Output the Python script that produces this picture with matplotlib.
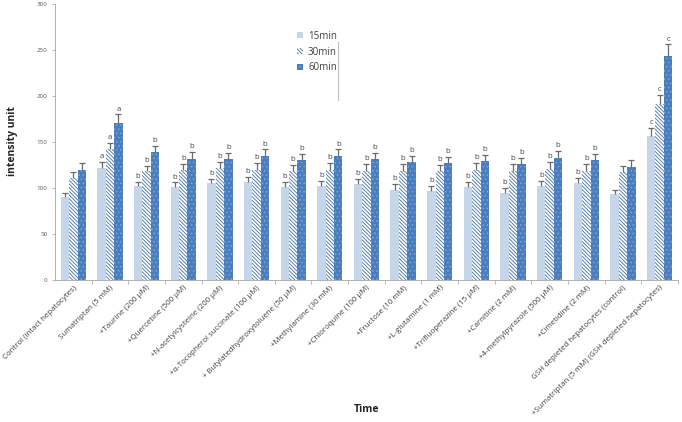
import matplotlib
matplotlib.use("Agg")
import matplotlib.pyplot as plt
import numpy as np

plt.rcParams["font.family"] = ["Open Sans", "DejaVu Sans"]
plt.rcParams["hatch.linewidth"] = 0.6

categories = [
    "Control (intact hepatocytes)",
    "Sumatriptan (5 mM)",
    "+Taurine (200 µM)",
    "+Quercetine (500 µM)",
    "+N-acetylcysteine (200 µM)",
    "+α-Tocopherol succinate (100 µM)",
    "+ Butylatedhydroxytoluene (50 µM)",
    "+Methylamine (30 mM)",
    "+Chloroquine (100 µM)",
    "+Fructose (10 mM)",
    "+L-glutamine (1 mM)",
    "+Trifluoperazine (15 µM)",
    "+Carnitine (2 mM)",
    "+4-methylpyrazole (500 µM)",
    "+Cimetidine (2 mM)",
    "GSH depleted hepatocytes (control)",
    "+Sumatriptan (5 mM) (GSH depleted hepatocytes)",
]
series = ["15min", "30min", "60min"]

v15 = [90, 122, 102, 101, 105, 106, 101, 102, 104, 98, 97, 101, 95, 102, 105, 93, 157]
v30 = [111, 142, 118, 120, 122, 120, 118, 120, 119, 119, 119, 120, 119, 121, 119, 117, 191]
v60 = [120, 171, 139, 132, 131, 135, 130, 135, 131, 128, 127, 129, 126, 133, 130, 123, 243]

e15 = [5, 6, 5, 5, 5, 6, 6, 6, 6, 6, 5, 6, 5, 6, 6, 5, 8]
e30 = [6, 7, 6, 6, 6, 7, 7, 7, 7, 7, 6, 7, 7, 7, 7, 7, 10]
e60 = [7, 9, 7, 7, 7, 7, 7, 7, 7, 7, 7, 7, 7, 7, 7, 7, 13]

letters = ["", "a", "b", "b", "b", "b", "b", "b", "b", "b", "b", "b", "b", "b", "b", "", "c"]

fig = plt.figure(figsize=(6.82, 4.22), dpi=100)
ax = fig.add_axes([0.0806, 0.3365, 0.9134, 0.654])

x = np.arange(len(categories))
w = 0.23
styles = [
    dict(color="#c6d6ea", edgecolor="#c6d6ea"),
    dict(color="white", edgecolor="#3f6fae", hatch="\\" * 9),
    dict(color="#4a7dbd", edgecolor="#7fa6d6", hatch="...."),
]
vals = [v15, v30, v60]
errs = [e15, e30, e60]

for i, (v, e, st, name) in enumerate(zip(vals, errs, styles, series)):
    xs = x + (i - 1) * w
    ax.bar(xs, v, width=w, linewidth=0, label=name, **st)
    eb = ax.errorbar(xs, v, yerr=[np.zeros(len(v)), e], fmt="none",
                     ecolor="#6b6b6b", elinewidth=0.9, capsize=2, capthick=0.9)
    eb[1][0].set_visible(False)
    for xi, vi, ei, lab in zip(xs, v, e, letters):
        if lab:
            ax.text(xi, vi + ei + 2, lab, ha="center", va="bottom",
                    fontsize=5.5, color="#404040")

ax.set_xlim(-0.5, len(categories) - 0.5)
ax.set_ylim(0, 300)
ax.set_yticks(range(0, 301, 50))
ax.tick_params(axis="y", labelsize=4.5, colors="#b0b0b0", labelcolor="#595959",
               length=2, width=0.6)
ax.set_xticks(x)
ax.set_xticklabels(categories, rotation=45, ha="right", rotation_mode="anchor",
                   fontsize=5.7, color="#404040")
ax.tick_params(axis="x", length=0, pad=3)
ax.set_xticks(np.arange(0.5, len(categories), 1), minor=True)
ax.tick_params(axis="x", which="minor", length=3, width=0.6, color="#b0b0b0")

for side in ("top", "right"):
    ax.spines[side].set_visible(False)
for side in ("left", "bottom"):
    ax.spines[side].set_color("#b0b0b0")
    ax.spines[side].set_linewidth(0.7)

fig.text(0.018, 0.665, "intensity unit", rotation=90, ha="center", va="center",
         fontsize=7.5, fontweight="bold", color="#222222")
fig.text(0.537, 0.03, "Time", ha="center", va="center",
         fontsize=7.5, fontweight="bold", color="#222222")

leg = ax.legend(loc="upper left", bbox_to_anchor=(0.375, 0.935), frameon=False,
                fontsize=7, handlelength=0.6, handleheight=0.6,
                handletextpad=0.5, labelspacing=0.5)
for t in leg.get_texts():
    t.set_color("#404040")
fig.add_artist(plt.Line2D([338 / 682, 338 / 682], [1 - 42 / 422, 1 - 100 / 422],
                          color="#c0c0c0", linewidth=0.8))

fig.savefig("out.png", dpi=100)
